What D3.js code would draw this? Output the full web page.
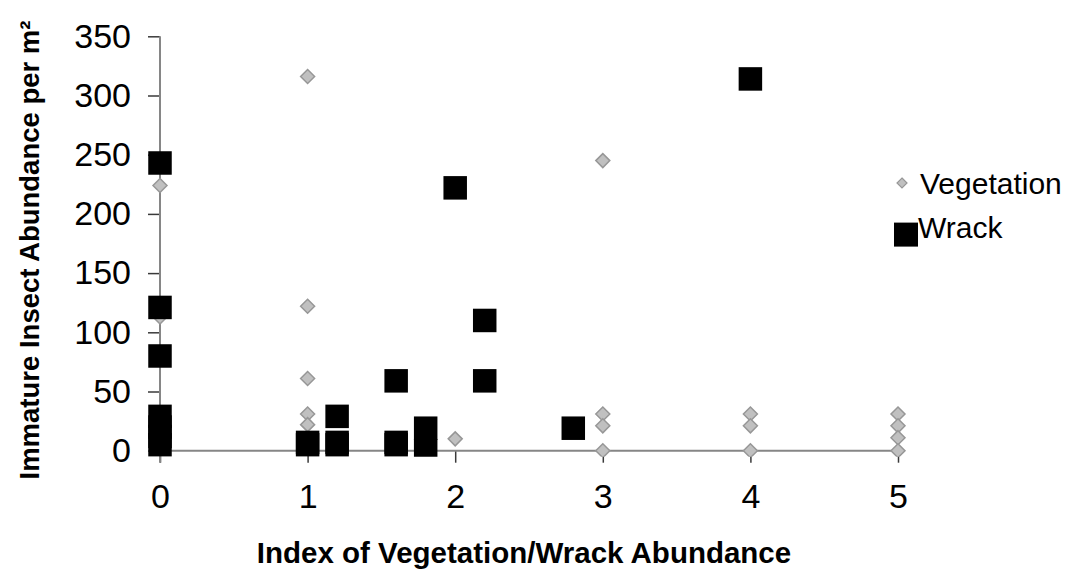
<!DOCTYPE html>
<html>
<head>
<meta charset="utf-8">
<script src="https://cdn.jsdelivr.net/npm/d3@7/dist/d3.min.js"></script>
<style>
  html, body { margin: 0; padding: 0; background: #fff; }
  svg { display: block; font-family: "Liberation Sans", Arial, sans-serif; }
</style>
</head>
<body>
<svg id="chart" width="1065" height="584"></svg>
<script>
// Immature insect abundance vs. vegetation / wrack index
const xTicks = [0, 1, 2, 3, 4, 5];
const yTicks = [0, 50, 100, 150, 200, 250, 300, 350];

// Vegetation series
const vegX = [0, 0, 1, 1, 1, 1, 1, 2, 3, 3, 3, 3, 4, 4, 4, 5, 5, 5, 5];
const vegY = [224, 113, 316, 122, 61, 31, 22, 10, 245, 31, 21, 0, 31, 21, 0, 31, 21, 11, 0];

// Wrack series
const wrackX = [0, 0, 0, 0, 0, 0, 0, 1, 1, 1.2, 1.2, 1.2, 1.6, 1.6, 1.6, 1.8, 1.8, 2, 2.2, 2.2, 2.8, 4];
const wrackY = [243, 121, 80, 29, 20, 12, 5, 7, 5, 29, 7, 5, 59, 7, 5, 19, 0, 222, 110, 59, 19, 314];

const seriesNames = ["Vegetation", "Wrack"];
const xTitle = "Index of Vegetation/Wrack Abundance";
const yTitle = "Immature Insect Abundance per m\u00B2";

const svg = d3.select("#chart");

const x = d3.scaleLinear().domain([0, 5]).range([160, 898]);
const y = d3.scaleLinear().domain([0, 350]).range([450.7, 36.3]);

const axisColor = "#868686";
const tickColor = "#3a3a3a";

// clip region for markers (plot area, slightly below the baseline)
svg.append("clipPath").attr("id", "plotClip")
  .append("rect").attr("x", 0).attr("y", 0).attr("width", 1065).attr("height", 456.7);

// Y axis
const yAxis = svg.append("g")
  .attr("transform", `translate(${x(0)},0)`)
  .call(d3.axisLeft(y).tickValues(yTicks).tickFormat(d3.format("d"))
    .tickSize(12).tickPadding(17).tickSizeOuter(0));
yAxis.select(".domain").remove();
yAxis.selectAll(".tick line").attr("stroke", tickColor).attr("stroke-width", 1.5);
yAxis.selectAll(".tick text")
  .attr("font-size", 34).attr("fill", "#000")
  .attr("font-family", "Liberation Sans, Arial, sans-serif");

// X axis
const xAxis = svg.append("g")
  .attr("transform", `translate(0,${y(0)})`)
  .call(d3.axisBottom(x).tickValues(xTicks).tickFormat(d3.format("d"))
    .tickSize(12).tickPadding(21).tickSizeOuter(0));
xAxis.select(".domain").remove();
xAxis.selectAll(".tick line").attr("stroke", tickColor).attr("stroke-width", 1.5);
xAxis.selectAll(".tick text")
  .attr("font-size", 34).attr("fill", "#000")
  .attr("font-family", "Liberation Sans, Arial, sans-serif");

// axis lines
svg.append("line")
  .attr("x1", x(0)).attr("x2", x(0)).attr("y1", y(350)).attr("y2", y(0) + 12)
  .attr("stroke", axisColor).attr("stroke-width", 2);
svg.append("line")
  .attr("x1", x(0) - 12).attr("x2", x(5)).attr("y1", y(0)).attr("y2", y(0))
  .attr("stroke", axisColor).attr("stroke-width", 2);

const diamond = (cx, cy, r) => `M${cx},${cy - r}L${cx + r},${cy}L${cx},${cy + r}L${cx - r},${cy}Z`;

const marks = svg.append("g").attr("clip-path", "url(#plotClip)");

// Vegetation diamonds
marks.selectAll("path.veg")
  .data(vegX.map((d, i) => [d, vegY[i]]))
  .join("path")
  .attr("class", "veg")
  .attr("d", d => diamond(x(d[0]), y(d[1]), 7))
  .attr("fill", "#c0c0c0")
  .attr("stroke", "#979797")
  .attr("stroke-width", 1.5);

// Wrack squares
const sq = 23.5;
marks.selectAll("rect.wrack")
  .data(wrackX.map((d, i) => [d, wrackY[i]]))
  .join("rect")
  .attr("class", "wrack")
  .attr("x", d => x(d[0]) - sq / 2)
  .attr("y", d => y(d[1]) - sq / 2)
  .attr("width", sq).attr("height", sq)
  .attr("fill", "#000");

// Axis titles
svg.append("text")
  .attr("x", 524).attr("y", 563)
  .attr("text-anchor", "middle")
  .attr("font-size", 29.5).attr("font-weight", "bold")
  .text(xTitle);

svg.append("text")
  .attr("transform", "translate(39,250) rotate(-90)")
  .attr("text-anchor", "middle")
  .attr("font-size", 27.5).attr("font-weight", "bold")
  .text(yTitle);

// Legend
const legend = svg.append("g");
legend.append("path")
  .attr("d", diamond(902, 183, 5))
  .attr("fill", "#c0c0c0").attr("stroke", "#979797").attr("stroke-width", 1.2);
legend.append("text")
  .attr("x", 920).attr("y", 183).attr("dy", "0.35em")
  .attr("font-size", 30).text(seriesNames[0]);
legend.append("rect")
  .attr("x", 906 - 12).attr("y", 234.6 - 12).attr("width", 24).attr("height", 24)
  .attr("fill", "#000");
legend.append("text")
  .attr("x", 918).attr("y", 227).attr("dy", "0.35em")
  .attr("font-size", 30).text(seriesNames[1]);
</script>
</body>
</html>
